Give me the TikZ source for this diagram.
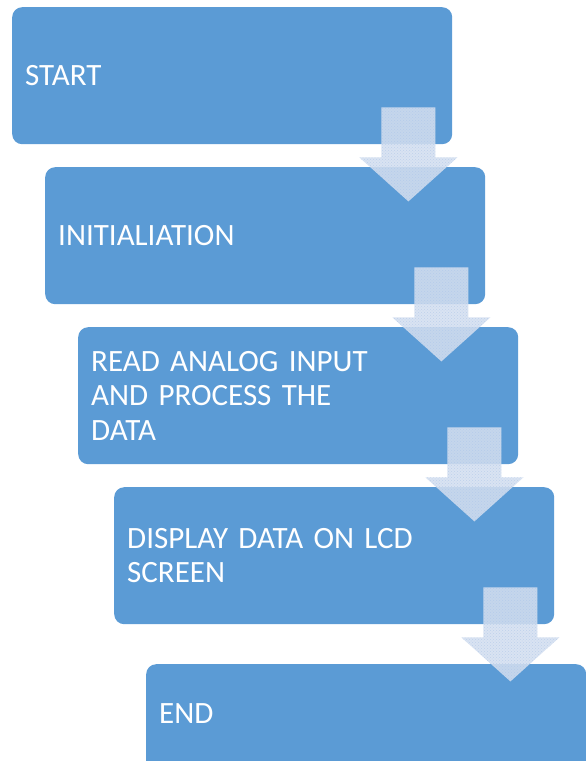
\documentclass[tikz,border=0pt]{standalone}
\usepackage{fontspec}
\setmainfont{Carlito}
\usetikzlibrary{patterns}

\definecolor{boxblue}{RGB}{91,155,213}
\definecolor{arrowblue}{RGB}{212,223,240}
\definecolor{dotblue}{RGB}{170,196,232}

\tikzset{
	stepbox/.style={fill=boxblue, draw=none, rounded corners=10pt, anchor=north west,
		minimum width=440pt, minimum height=137pt, text width=414pt, inner xsep=13pt,
		align=left, text=white, font=\fontsize{31}{34.5}\selectfont},
	flowarrow/.style={fill=arrowblue, fill opacity=0.88},
	flowdots/.style={pattern=crosshatch dots, pattern color=dotblue, fill opacity=0.6}
}

\begin{document}
\begin{tikzpicture}[x=1pt, y=-1pt]
		\useasboundingbox (0,0) rectangle (586,761);
		
		\node[stepbox] (start) at (12,7) {START};
		\node[stepbox] (init) at (45,167) {INITIALIATION};
		\node[stepbox] (read) at (78,327) {READ ANALOG INPUT\\AND PROCESS THE\\DATA};
		\node[stepbox] (show) at (114,487) {DISPLAY DATA ON LCD\\SCREEN};
		\node[stepbox, text depth=38pt] (end) at (146,664) {END};
		
		% block arrows between the steps
		\foreach \b in {start, init, read, show} {
			\fill[flowarrow, shift={(\b.south east)}] (-71,-37) -- (-17,-37) -- (-17,13) -- (5,13)
				-- (-44,57) -- (-93,13) -- (-71,13) -- cycle;
			\fill[flowdots, shift={(\b.south east)}] (-71,-37) -- (-17,-37) -- (-17,13) -- (5,13)
				-- (-44,57) -- (-93,13) -- (-71,13) -- cycle;
		}
		\end{tikzpicture}
\end{document}
